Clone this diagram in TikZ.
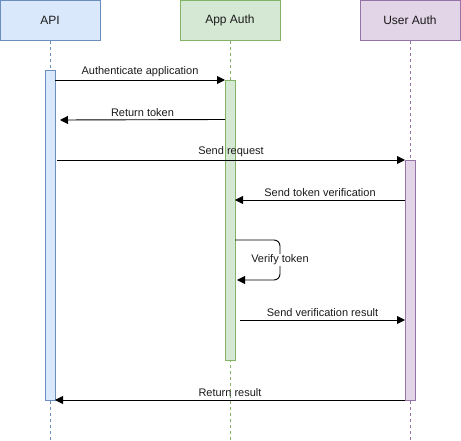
\documentclass[tikz,border=0pt]{standalone}
\usepackage{fontspec}
\setmainfont{Liberation Sans}
\usetikzlibrary{arrows.meta}
\definecolor{bfill}{HTML}{DAE8FC}\definecolor{bdraw}{HTML}{6C8EBF}
\definecolor{gfill}{HTML}{D5E8D4}\definecolor{gdraw}{HTML}{82B366}
\definecolor{pfill}{HTML}{E1D5E7}\definecolor{pdraw}{HTML}{9673A6}
\definecolor{txt}{HTML}{1A1A1A}
\begin{document}
\begin{tikzpicture}[x=1pt,y=-1pt,
  head/.style={draw=#1draw,fill=#1fill,minimum width=100pt,minimum height=40pt,inner sep=0pt,font=\fontsize{12}{14}\selectfont,text=txt,line width=0.8pt},
  bar/.style={draw=#1draw,fill=#1fill,minimum width=10pt,inner sep=0pt,line width=0.8pt},
  life/.style={draw=#1draw,dashed,dash pattern=on 3pt off 3pt,line width=0.8pt},
  msg/.style={-{Triangle[length=8pt,width=8pt]},line width=0.9pt},
  lbl/.style={font=\fontsize{11}{13}\selectfont,text=txt,inner sep=0pt}]
\useasboundingbox (0,0) rectangle (461,441);
% headers
\node[head=b] (api) at (50,20.5) {API};
\node[head=g] (app) at (230,20.5) {App Auth};
\node[head=p] (usr) at (410,20.5) {User Auth};
% lifelines
\coordinate (apiend) at (50,441);
\coordinate (append) at (230,441);
\coordinate (usrend) at (410,441);
\draw[life=b] (api.south) -- (apiend);
\draw[life=g] (app.south) -- (append);
\draw[life=p] (usr.south) -- (usrend);
% activation bars
\node[bar=b,minimum height=330pt] (apibar) at (50,235) {};
\node[bar=g,minimum height=280pt] (appbar) at (230,220) {};
\node[bar=p,minimum height=240pt] (usrbar) at (410,280) {};
% messages
\coordinate (m1a) at (55,80); \coordinate (m1b) at (225,80);
\draw[msg] (m1a) -- node[lbl,above=3pt] (l1) {Authenticate application} (m1b);
\coordinate (m2a) at (225,119.5); \coordinate (m2b) at (60,120);
\draw[msg] (m2a) -- node[lbl,above=3pt] (l2) {Return token} (m2b);
\coordinate (m3a) at (57,160); \coordinate (m3b) at (405,160);
\draw[msg] (m3a) -- node[lbl,above=3pt] (l3) {Send request} (m3b);
\coordinate (m4a) at (405,200); \coordinate (m4b) at (235,200);
\draw[msg] (m4a) -- node[lbl,above=3pt] (l4) {Send token verification} (m4b);
\coordinate (m5a) at (235,240); \coordinate (m5b) at (237,280);
\draw[msg,rounded corners=6pt] (m5a) -- (280,240) -- (280,280) -- (m5b);
\node[lbl,fill=white,inner sep=1pt] (l5) at (280,260) {Verify token};
\coordinate (m6a) at (240,320); \coordinate (m6b) at (405,320);
\draw[msg] (m6a) -- node[lbl,above=3pt] (l6) {Send verification result} (m6b);
\coordinate (m7a) at (405,400); \coordinate (m7b) at (55,400);
\draw[msg] (m7a) -- node[lbl,above=3pt] (l7) {Return result} (m7b);
\end{tikzpicture}
\end{document}
